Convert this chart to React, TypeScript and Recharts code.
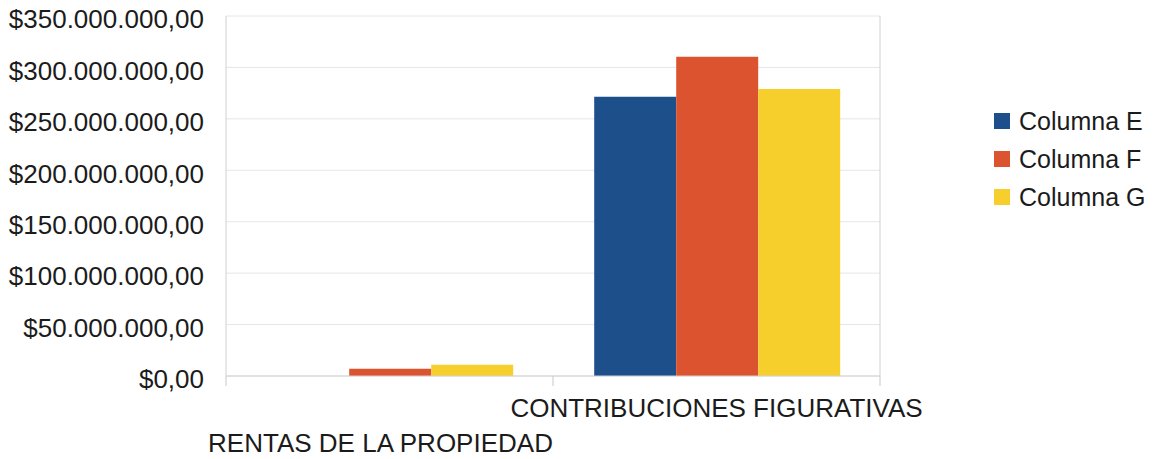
import { BarChart, Bar, XAxis, YAxis, CartesianGrid, Legend } from "recharts";

const categories = ["RENTAS DE LA PROPIEDAD", "CONTRIBUCIONES FIGURATIVAS"];
const columnaE = [0, 271500000];
const columnaF = [7000000, 310500000];
const columnaG = [11000000, 279000000];
const yTicks = [0, 50000000, 100000000, 150000000, 200000000, 250000000, 300000000, 350000000];

const series = [
  { key: "Columna E", values: columnaE, color: "#1d4f8b" },
  { key: "Columna F", values: columnaF, color: "#dc532f" },
  { key: "Columna G", values: columnaG, color: "#f7cf2c" },
];

const data = categories.map((name, i) => {
  const row: any = { name };
  series.forEach((s) => {
    row[s.key] = s.values[i];
  });
  return row;
});

const FONT = "'Liberation Sans', Arial, sans-serif";
const TEXT = "#1b1b1b";

// 350000000 -> $350.000.000,00
const money = (v: number) => {
  const int = Math.round(v)
    .toString()
    .replace(/\B(?=(\d{3})+(?!\d))/g, ".");
  return "$" + int + ",00";
};

const CategoryTick = (props: any) => {
  const { x, y, payload, index, width, visibleTicksCount } = props;
  const band = width && visibleTicksCount ? width / visibleTicksCount : 327;
  const half = band / 2;
  // labels alternate between two rows
  const dy = index % 2 === 0 ? 67 : 32;
  const dx = index % 2 === 0 ? -9 : 0;
  return (
    <g>
      {index === 0 && (
        <line x1={x - half} x2={x - half} y1={y} y2={y + 10} stroke="#c8c8c8" />
      )}
      <line x1={x + half} x2={x + half} y1={y} y2={y + 10} stroke="#c8c8c8" />
      <text
        x={x + dx}
        y={y + dy}
        textAnchor="middle"
        dominantBaseline="central"
        fontSize={26}
        fontFamily={FONT}
        fill={TEXT}
      >
        {payload.value}
      </text>
    </g>
  );
};

const LegendBox = (props: any) => {
  const { payload } = props;
  return (
    <div style={{ fontFamily: FONT, fontSize: 25, color: TEXT }}>
      {(payload || []).map((p: any) => (
        <div
          key={p.value}
          style={{ display: "flex", alignItems: "center", height: 38, whiteSpace: "nowrap" }}
        >
          <span
            style={{
              display: "inline-block",
              width: 16,
              height: 16,
              background: p.color,
              marginRight: 9,
            }}
          />
          {p.value}
        </div>
      ))}
    </div>
  );
};

export default function App() {
  return (
    <div style={{ position: "absolute", left: 0, top: 0, background: "#fff" }}>
      <BarChart
        width={1161}
        height={459}
        data={data}
        margin={{ top: 16, right: 110, left: 0, bottom: 0 }}
        barCategoryGap="12.6%"
        barGap={0}
      >
        <CartesianGrid vertical={false} stroke="#e6e6e6" />
        <XAxis
          dataKey="name"
          height={83}
          axisLine={{ stroke: "#d0d0d0" }}
          tickLine={false}
          tickSize={0}
          tickMargin={0}
          interval={0}
          tick={<CategoryTick />}
        />
        <YAxis
          width={226}
          domain={[0, 350000000]}
          ticks={yTicks}
          tickFormatter={money}
          axisLine={{ stroke: "#d0d0d0" }}
          tickLine={false}
          tickMargin={16}
          tick={{ fontSize: 26, fontFamily: FONT, fill: TEXT, dy: 3 }}
        />
        <YAxis
          yAxisId="right"
          orientation="right"
          width={1}
          domain={[0, 350]}
          tick={false}
          tickLine={false}
          axisLine={{ stroke: "#d0d0d0" }}
        />
        <Legend
          layout="vertical"
          verticalAlign="top"
          align="right"
          content={<LegendBox />}
          wrapperStyle={{ left: 994, top: 102, width: 170 }}
        />
        {series.map((s) => (
          <Bar key={s.key} dataKey={s.key} fill={s.color} isAnimationActive={false} />
        ))}
      </BarChart>
    </div>
  );
}
